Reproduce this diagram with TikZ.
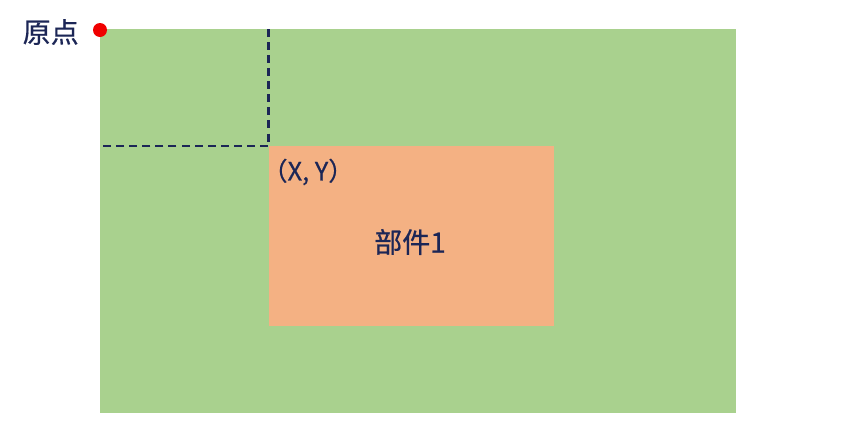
\documentclass[tikz,border=0pt]{standalone}
\usepackage{fontspec}
\setmainfont{Noto Sans CJK SC}[FakeBold=0.6]
\definecolor{bggreen}{HTML}{A9D18E}
\definecolor{partorange}{HTML}{F4B183}
\definecolor{navy}{HTML}{1C2656}
\definecolor{dotred}{HTML}{F00000}
\begin{document}
\begin{tikzpicture}[x=0.75pt,y=-0.75pt,
  lbl/.style={text=navy,inner sep=0pt,font=\fontsize{21}{25}\selectfont},
  guide/.style={draw=navy,line width=1.8pt,dash pattern=on 6pt off 3.8pt}]
\useasboundingbox (0,0) rectangle (850,447);
\fill[bggreen] (100,29) rectangle (736,413);
\fill[partorange] (269,146) rectangle (554,326);
\coordinate (top) at (268.5,29);
\coordinate (corner) at (268.5,146);
\coordinate (left) at (100,146);
\draw[guide] (top) -- (corner) -- (left);
\fill[dotred] (100,30) circle (7);
\node[lbl,anchor=east] (origin) at (79,32) {原点};
\node[lbl,anchor=west,font=\fontsize{19}{23}\selectfont] (xy) at (262,172) {（X, Y）};
\node[lbl] (part) at (410,242) {部件1};
\end{tikzpicture}
\end{document}
